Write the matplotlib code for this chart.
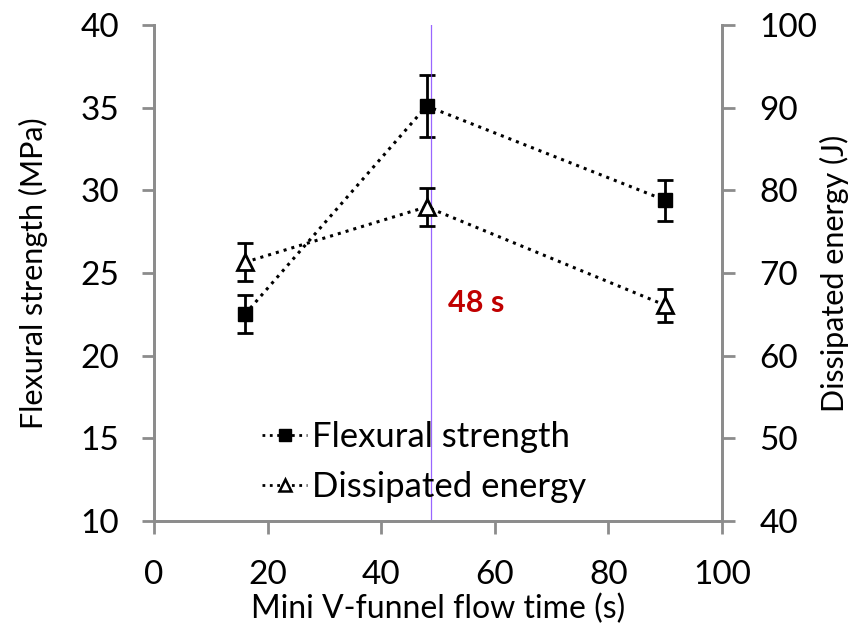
import numpy as np
import matplotlib.pyplot as plt
from matplotlib.lines import Line2D

plt.rcParams['font.family'] = ['Lato', 'DejaVu Sans']

flow_time = [16, 48, 90]
strength = [22.5, 35.1, 29.4]
strength_err = [1.15, 1.85, 1.25]
energy = [71.3, 78.0, 66.1]
energy_err = [2.3, 2.3, 2.0]
optimum = 48.7

grey = '#8c8c8c'

fig = plt.figure(figsize=(8.67, 6.3), dpi=100)
ax = fig.add_axes([154 / 867, 1 - 521 / 630, (722 - 154) / 867, (521 - 25) / 630])
ax2 = ax.twinx()

ax.errorbar(flow_time, strength, yerr=strength_err, color='black', ls=':', lw=2.2,
            marker='s', ms=10, mfc='black', mec='black', capsize=6, elinewidth=2,
            capthick=2)
ax2.errorbar(flow_time, energy, yerr=energy_err, color='black', ls=':', lw=2.2,
             marker='^', ms=11, mfc='white', mec='black', mew=2, capsize=6,
             elinewidth=2, capthick=2)

# marks the 48 s optimum
ax.axvline(optimum, color='#8040ff', lw=0.9, alpha=0.8)
ax.text(51.8, 23.2, '48 s', color='#c00000', fontsize=22, fontweight='bold', va='center')

ax.set_xlim(0, 100)
ax.set_ylim(10, 40)
ax2.set_ylim(40, 100)
ax.set_xticks(np.arange(0, 101, 20))
ax.set_yticks(np.arange(10, 41, 5))
ax2.set_yticks(np.arange(40, 101, 10))

for a in (ax, ax2):
    a.spines['top'].set_visible(False)
    for s in ('left', 'right', 'bottom'):
        a.spines[s].set_color(grey)
        a.spines[s].set_linewidth(2)
    a.tick_params(colors=grey, labelcolor='black', width=2, length=9, labelsize=24)
ax.tick_params(axis='y', pad=16)
ax.tick_params(axis='x', pad=19)
ax2.tick_params(axis='y', pad=18)

ax.set_xlabel('Mini V-funnel flow time (s)', fontsize=23)
ax.xaxis.set_label_coords((438 - 154) / 568, -(594 - 521) / 496)
ax.set_ylabel('Flexural strength (MPa)', fontsize=22)
ax.yaxis.set_label_coords(-(154 - 48) / 568, 0.5)
ax2.set_ylabel('Dissipated energy (J)', fontsize=22)
ax2.yaxis.set_label_coords(1 + (820 - 722) / 568, 0.5)

handles = [Line2D([], [], color='black', ls=':', lw=2, marker='s', ms=8),
           Line2D([], [], color='black', ls=':', lw=2, marker='^', ms=8,
                  mfc='white', mew=1.8)]
ax.legend(handles, ['Flexural strength', 'Dissipated energy'], loc='center left',
          bbox_to_anchor=((262 - 154) / 568, (521 - 462) / 496), frameon=False,
          fontsize=25, handlelength=1.3, handletextpad=0.15, labelspacing=0.5,
          borderpad=0, borderaxespad=0)

fig.savefig('out.png', dpi=100)
